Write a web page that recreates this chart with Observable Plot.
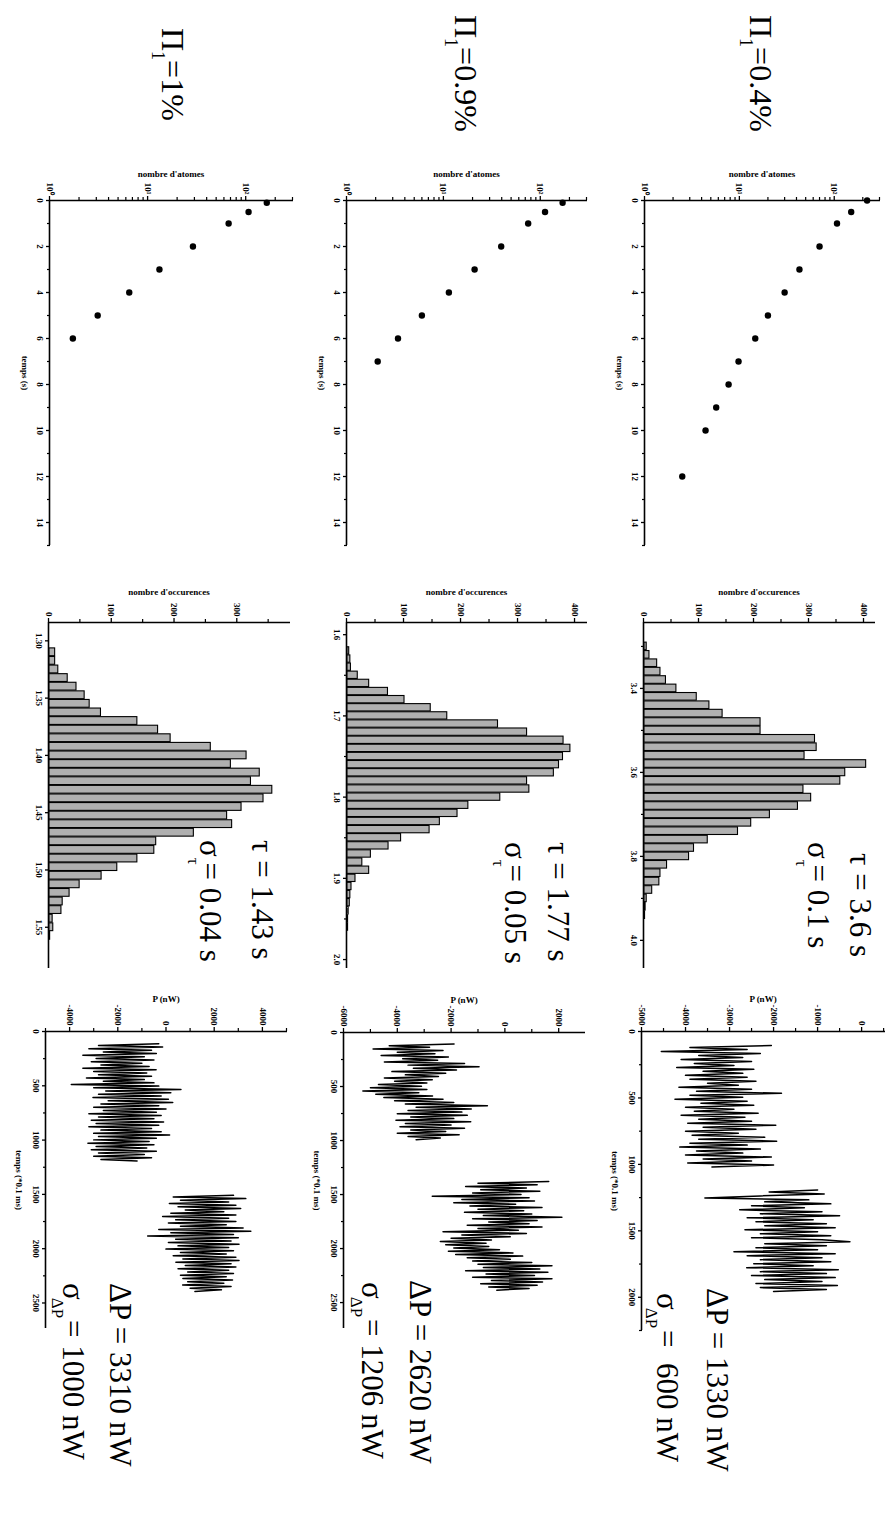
<!DOCTYPE html>
<html><head><meta charset="utf-8">
<script src="https://cdn.jsdelivr.net/npm/d3@7"></script>
<script src="https://cdn.jsdelivr.net/npm/@observablehq/plot@0.6"></script>
<style>
html,body{margin:0;padding:0;background:#fff;}
#page{position:absolute;left:0;top:0;width:1531px;height:887px;transform-origin:0 0;transform:translate(887px,0) rotate(90deg);background:#fff;overflow:hidden;}
</style></head><body><div id="page"></div>
<script>
// ---------------- DATA ----------------
const rowLabels = ["0.4%", "0.9%", "1%"];
// atom decay (nombre d'atomes vs temps (s))
const atomT04 = [0, 0.5, 1, 2, 3, 4, 5, 6, 7, 8, 9, 10, 12];
const atomN04 = [222, 151, 107, 70, 43, 30, 20, 14.7, 9.8, 7.7, 5.7, 4.4, 2.5];
const atomT09 = [0.1, 0.5, 1, 2, 3, 4, 5, 6, 7];
const atomN09 = [170, 112, 75, 39.5, 21, 11.4, 6.0, 3.4, 2.1];
const atomT1 = [0.1, 0.5, 1, 2, 3, 4, 5, 6];
const atomN1 = [164, 107, 67, 29, 13.2, 6.5, 3.1, 1.73];

// histograms of tau (nombre d'occurences)
const histStart04 = 3.30, histWidth04 = 0.02;
const histCount04 = [4,9,23,29,39,58,95,118,142,211,211,310,313,291,403,365,356,289,303,279,228,194,170,115,90,81,41,29,27,14,4,2,1];
const histStart09 = 1.62, histWidth09 = 0.01;
const histCount09 = [3,5,6,18,38,71,100,146,175,264,315,379,391,378,371,362,315,319,268,212,193,162,144,94,72,41,26,38,14,7,5,4,2,1,1];
const histStart1 = 1.31, histWidth1 = 0.0075;
const histCount1 = [9,9,14,29,43,56,64,82,140,173,193,257,314,289,335,321,355,341,306,283,291,230,170,167,140,108,83,48,32,21,19,5,6,1];

// power traces P (nW) vs temps (*0.1 ms), sampled every dt
const traceDt = 15;
const trace04a_t0 = 105;
const trace04a = [-2050,-3900,-2600,-4550,-2300,-3700,-2700,-4100,-2500,-3800,
 -2900,-4200,-2450,-3600,-2700,-4000,-2600,-3900,-2400,-3500,
 -2800,-4150,-2500,-3750,-1820,-3900,-2700,-4240,-2600,-3650,
 -2450,-4000,-2900,-3800,-2350,-4100,-2650,-3700,-2500,-3950,
 -1950,-3600,-2400,-4000,-2800,-3850,-2200,-3700,-1930,-3900,
 -2600,-4130,-2300,-3750,-2700,-4000,-2050,-3600,-2500,-3950,
 -2000,-3400];
const trace04b_t0 = 1192;
const trace04b = [-1000,-2100,-850,-2300,-3560,-1200,-2200,-700,-2500,-1300,
 -2770,-900,-2300,-500,-2600,-1100,-2400,-800,-2200,-600,
 -2650,-1000,-2300,-700,-2500,-900,-265,-2200,-800,-2400,
 -1000,-2900,-600,-2600,-900,-2300,-700,-2450,-1100,-2610,
 -530,-2300,-800,-2500,-600,-2200,-900,-2400,-550,-2300,
 -800,-2000];
const trace09a_t0 = 107;
const trace09a = [-1890,-4300,-2800,-4900,-2300,-4000,-2600,-4600,-2100,-3800,
 -2500,-4480,-1500,-3600,-960,-3400,-1800,-4200,-2200,-3700,
 -2470,-4480,-2700,-4100,-2900,-4700,-3100,-5000,-2900,-5280,
 -3200,-4800,-2690,-4500,-2300,-4100,-1900,-3700,-650,-3300,
 -1250,-3600,-1600,-4000,-1400,-3500,-1900,-4050,-1270,-3700,
 -2000,-3900,-1500,-3500,-2200,-4000,-1700,-3600,-2400,-3300];
const trace09b_t0 = 1380;
const trace09b = [1630,-1000,1200,-1460,800,-900,1300,-1200,600,-2700,
 900,-1600,1100,-1900,400,-1300,1380,-1000,700,-1500,
 1000,-800,2120,-1200,1200,-600,900,-1400,1380,-1000,
 500,-2300,800,-1600,200,-2000,-500,-2400,-700,-2200,
 -600,-1900,-200,-2100,300,-1830,660,-1400,200,-1200,
 1000,-1000,1750,-800,1300,-1460,1600,-700,1100,-1200,
 1750,-500,1400,-900,1200,-600,900,-300];
const trace1a_t0 = 113;
const trace1a = [-300,-2800,-140,-3200,-600,-2600,-400,-3450,-900,-2900,
 -500,-3100,-1000,-2700,-700,-3450,-410,-3000,-800,-2800,
 -600,-3300,-900,-2600,-500,-3930,-300,-3000,620,-2500,
 200,-2800,-200,-3030,100,-2400,280,-2700,-300,-3000,
 0,-2600,-400,-3200,-200,-2800,-500,-3100,-100,-2900,
 -300,-3200,-600,-2700,-200,-3000,150,-2800,-400,-3000,
 -700,-3240,-500,-2900,-800,-3100,-400,-2800,-900,-3000,
 -600,-2700,-1200];
const trace1b_t0 = 1509;
const trace1b = [2800,300,3310,600,2600,140,2900,500,3100,800,
 2400,200,2900,-140,2600,400,2900,100,2500,600,
 3200,-300,3520,200,2800,-760,3000,400,2700,100,
 3030,500,2600,0,2800,600,2500,300,2900,700,
 3030,410,2700,800,2900,500,2600,900,2800,600,
 2500,700,2760,900,2400,690,2700,1000,2300,1200];

// tick values
const atomTicksX = [0,2,4,6,8,10,12,14];
const atomMinorX = [1,3,5,7,9,11,13,15];
const logTicks = [1,10,100];
const logMinor = [2,3,4,5,6,7,8,9,20,30,40,50,60,70,80,90,200,300];
const logLabels = {1:"10\u2070", 10:"10\u00B9", 100:"10\u00B2"};
const histTicksX04 = [3.4,3.6,3.8,4.0], histMinorX04 = [3.3,3.5,3.7,3.9];
const histTicksX09 = [1.6,1.7,1.8,1.9,2.0], histMinorX09 = [1.65,1.75,1.85,1.95];
const histTicksX1 = [1.30,1.35,1.40,1.45,1.50,1.55], histMinorX1 = [];
const histTicksY = [0,100,200,300,400], histMinorY = [50,150,250,350];
const histTicksY1 = [0,100,200,300], histMinorY1 = [50,150,250,350];
const pTicksX04 = [0,500,1000,1500,2000], pMinorX04 = [250,750,1250,1750,2250];
const pTicksX = [0,500,1000,1500,2000,2500], pMinorX = [250,750,1250,1750,2250];
const pTicksY04 = [-5000,-4000,-3000,-2000,-1000,0], pMinorY04 = [-4500,-3500,-2500,-1500,-500,500];
const pTicksY09 = [-6000,-4000,-2000,0,2000], pMinorY09 = [-5000,-3000,-1000,1000];
const pTicksY1 = [-4000,-2000,0,2000,4000], pMinorY1 = [-5000,-3000,-1000,1000,3000,5000];

// ---------------- LAYOUT (landscape page, then rotated) ----------------
const page = document.getElementById("page");
const serif = "'Liberation Serif','Times New Roman',serif";
const mL = 55, mR = 12, mT = 6, mB = 45;

function panel(frame, xScale, yScale, marks) {
  const w = frame.R - frame.L + mL + mR, h = frame.B - frame.T + mT + mB;
  const svg = Plot.plot({
    width: w, height: h, marginLeft: mL, marginRight: mR, marginTop: mT, marginBottom: mB,
    style: {fontFamily: serif, fontSize: "9px", fontWeight: "bold", background: "transparent", overflow: "visible"},
    x: xScale, y: yScale, marks
  });
  svg.style.position = "absolute";
  svg.style.left = (frame.L - mL) + "px";
  svg.style.top = (frame.T - mT) + "px";
  page.appendChild(svg);
}

function axes(o) {
  return [
    Plot.axisX({ticks: o.xt, tickSize: 4, tickPadding: 2, tickFormat: o.xf, label: o.xl, labelArrow: "none", labelAnchor: "center", labelOffset: o.xlo, strokeWidth: 1.3}),
    Plot.axisX({ticks: o.xm, tickSize: 3, tickFormat: () => "", label: null, strokeWidth: 1.2}),
    Plot.axisY({ticks: o.yt, tickSize: 4, tickPadding: 2, tickFormat: o.yf, label: o.yl, labelArrow: "none", labelAnchor: "center", labelOffset: o.ylo, strokeWidth: 1.3}),
    Plot.axisY({ticks: o.ym, tickSize: 3, tickFormat: () => "", label: null, strokeWidth: 1.2}),
    Plot.ruleX([o.x0], {strokeWidth: 1.6}),
    Plot.ruleY([o.y0], {strokeWidth: 1.6})
  ];
}

// atom plots
const atomRows = [
  {t: atomT04, n: atomN04, f: {L:200, R:545, T:7, B:242}},
  {t: atomT09, n: atomN09, f: {L:200, R:545, T:300, B:540}},
  {t: atomT1, n: atomN1, f: {L:200, R:545, T:594, B:837}}
];
atomRows.forEach(r => {
  const data = r.t.map((t, i) => ({t, n: r.n[i]}));
  panel(r.f, {domain: [0, 15]}, {type: "log", domain: [1, 300]}, [
    ...axes({xt: atomTicksX, xm: atomMinorX, xf: d => d, xl: "temps (s)", xlo: 28,
             yt: logTicks, ym: logMinor, yf: d => logLabels[d], yl: "nombre d'atomes", ylo: 30, x0: 0, y0: 1}),
    Plot.dot(data, {x: "t", y: "n", r: 3.2, fill: "black"})
  ]);
});

// histograms
const histRows = [
  {s: histStart04, w: histWidth04, c: histCount04, f: {L:622, R:968, T:12, B:243}, xd: [3.243, 4.067], yd: [0, 420], xt: histTicksX04, xm: histMinorX04, xf: d => d.toFixed(1), yt: histTicksY, ym: histMinorY},
  {s: histStart09, w: histWidth09, c: histCount09, f: {L:622, R:968, T:300, B:540}, xd: [1.585, 2.011], yd: [0, 421], xt: histTicksX09, xm: histMinorX09, xf: d => d.toFixed(1), yt: histTicksY, ym: histMinorY},
  {s: histStart1, w: histWidth1, c: histCount1, f: {L:622, R:968, T:597, B:838}, xd: [1.284, 1.586], yd: [0, 384], xt: histTicksX1, xm: histMinorX1, xf: d => d.toFixed(2), yt: histTicksY1, ym: histMinorY1}
];
histRows.forEach(r => {
  const data = r.c.map((n, i) => ({a: r.s + i * r.w - r.w / 2, b: r.s + i * r.w + r.w / 2, n}));
  panel(r.f, {domain: r.xd}, {domain: r.yd}, [
    ...axes({xt: r.xt, xm: r.xm, xf: r.xf, xl: null, xlo: 28,
             yt: r.yt, ym: r.ym, yf: d => d, yl: "nombre d'occurences", ylo: 34, x0: r.xd[0], y0: 0}),
    Plot.rectY(data, {x1: "a", x2: "b", y1: 0, y2: "n", fill: "#b0b0b0", stroke: "black", strokeWidth: 1.1, insetLeft: 0.4, insetRight: 0.4})
  ]);
});

// power traces
const pRows = [
  {segs: [[trace04a_t0, trace04a], [trace04b_t0, trace04b]], f: {L:1031, R:1330, T:2, B:245}, xd: [0, 2250], yd: [-5000, 520], xt: pTicksX04, xm: pMinorX04, yt: pTicksY04, ym: pMinorY04},
  {segs: [[trace09a_t0, trace09a], [trace09b_t0, trace09b]], f: {L:1032, R:1328, T:302, B:543}, xd: [0, 2740], yd: [-6000, 2960], xt: pTicksX, xm: pMinorX, yt: pTicksY09, ym: pMinorY09},
  {segs: [[trace1a_t0, trace1a], [trace1b_t0, trace1b]], f: {L:1031, R:1328, T:600, B:841}, xd: [0, 2735], yd: [-5000, 5000], xt: pTicksX, xm: pMinorX, yt: pTicksY1, ym: pMinorY1}
];
pRows.forEach(r => {
  const lines = r.segs.map(([t0, vals]) => Plot.line(vals.map((p, i) => ({t: t0 + i * traceDt, p})), {x: "t", y: "p", stroke: "black", strokeWidth: 1.5}));
  panel(r.f, {domain: r.xd}, {domain: r.yd}, [
    ...axes({xt: r.xt, xm: r.xm, xf: d => String(d), xl: "temps (*0.1 ms)", xlo: 30,
             yt: r.yt, ym: r.ym, yf: d => String(d), yl: "P (nW)", ylo: 36, x0: 0, y0: r.yd[0]}),
    ...lines
  ]);
});

// ---------------- TEXT ANNOTATIONS ----------------
const ov = d3.select(page).append("svg")
  .attr("width", 1531).attr("height", 887)
  .style("position", "absolute").style("left", "0px").style("top", "0px")
  .attr("font-family", serif).attr("fill", "black");

const titles = [{x: 15, y: 137}, {x: 15, y: 432}, {x: 28, y: 725}];
titles.forEach((p, i) => {
  const t = ov.append("text").attr("x", p.x).attr("y", p.y).attr("font-size", 32);
  t.append("tspan").text("\u03A0");
  t.append("tspan").attr("font-size", 18).attr("dy", 10).text("1");
  t.append("tspan").attr("dy", -10).text("=" + rowLabels[i]);
});

const tauVals = ["3.6 s", "1.77 s", "1.43 s"];
const sigmaTauVals = ["0.1 s", "0.05 s", "0.04 s"];
const tauPos = [{x: 853, y: 37, sx: 842, sy: 79}, {x: 842, y: 339, sx: 842, sy: 382}, {x: 840, y: 635, sx: 840, sy: 687}];
tauPos.forEach((p, i) => {
  ov.append("text").attr("x", p.x).attr("y", p.y).attr("font-size", 31).text("\u03C4 = " + tauVals[i]);
  const s = ov.append("text").attr("x", p.sx).attr("y", p.sy).attr("font-size", 31);
  s.append("tspan").text("\u03C3");
  s.append("tspan").attr("font-size", 17).attr("dy", 12).attr("dx", 1).text("\u03C4");
  s.append("tspan").attr("dy", -12).attr("dx", -2).text((i === 0 ? "=  " : "= ") + sigmaTauVals[i]);
});

const dPVals = ["1330 nW", "2620 nW", "3310 nW"];
const sigmaPVals = [" 600 nW", "1206 nW", "1000 nW"];
const dPPos = [{x: 1288, y: 180, sx: 1293, sy: 230}, {x: 1280, y: 477, sx: 1282, sy: 525}, {x: 1283, y: 777, sx: 1283, sy: 824}];
dPPos.forEach((p, i) => {
  ov.append("text").attr("x", p.x).attr("y", p.y).attr("font-size", 31).text("\u0394P = " + dPVals[i]);
  const s = ov.append("text").attr("x", p.sx).attr("y", p.sy).attr("font-size", 31).attr("xml:space", "preserve").style("white-space", "pre");
  s.append("tspan").text("\u03C3");
  s.append("tspan").attr("font-size", 17).attr("dy", 11).attr("dx", -2).text("\u0394P");
  s.append("tspan").attr("dy", -11).attr("dx", 2).text("= " + sigmaPVals[i]);
});
</script></body></html>
